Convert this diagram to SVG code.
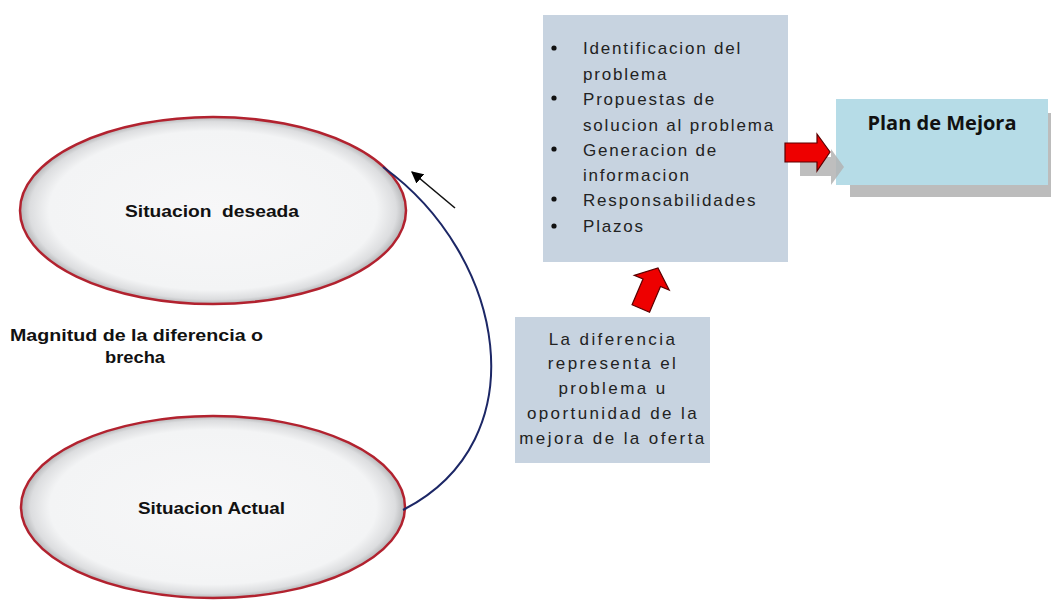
<svg xmlns="http://www.w3.org/2000/svg" width="1051" height="601" viewBox="0 0 1051 601">
<defs>
  <radialGradient id="ellFill" cx="50%" cy="50%" r="50%">
    <stop offset="0" stop-color="#f7f7f8"/>
    <stop offset="0.85" stop-color="#f3f4f5"/>
    <stop offset="0.95" stop-color="#dcdddf"/>
    <stop offset="1" stop-color="#b5b6b8"/>
  </radialGradient>
  <marker id="blackHead" viewBox="0 0 10 10" refX="9" refY="5" markerWidth="12" markerHeight="12" orient="auto" markerUnits="userSpaceOnUse">
    <path d="M0,0 L10,5 L0,10 z" fill="#000"/>
  </marker>
  <style>
    .ell { fill: url(#ellFill); stroke: #b2222f; stroke-width: 2.5; }
    .ellText { font-family: "Liberation Sans", Arial, sans-serif; font-size: 16px; font-weight: bold; fill: #111; }
    .box { fill: #c7d3e0; }
    .boxText { font-family: "Liberation Sans", Arial, sans-serif; font-size: 17px; fill: #222; letter-spacing: 1.8px; }
    .boxText2 { font-family: "Liberation Sans", Arial, sans-serif; font-size: 17px; fill: #222; letter-spacing: 2.4px; }
    .bullet { fill: #111; }
    .redArrow { fill: #ee0000; stroke: #5a0000; stroke-width: 1.2; }
    .conn { fill: none; }
  </style>
</defs>
<rect width="1051" height="601" fill="#ffffff"/>

<g id="node-deseada">
  <ellipse class="ell" cx="213" cy="210.5" rx="193" ry="93.5"/>
  <text class="ellText" x="125" y="217" textLength="174" lengthAdjust="spacingAndGlyphs" xml:space="preserve">Situacion  deseada</text>
</g>

<g id="node-actual">
  <ellipse class="ell" cx="213" cy="507" rx="192" ry="91"/>
  <text class="ellText" x="138" y="514" textLength="147" lengthAdjust="spacingAndGlyphs">Situacion Actual</text>
</g>

<g id="label-magnitud">
  <text class="ellText" x="10" y="341" textLength="253" lengthAdjust="spacingAndGlyphs">Magnitud de la diferencia o</text>
  <text class="ellText" x="105" y="363" textLength="60" lengthAdjust="spacingAndGlyphs">brecha</text>
</g>

<g id="node-acciones">
  <rect class="box" x="543" y="15" width="245" height="247"/>
  <circle class="bullet" cx="554" cy="48" r="2.6"/>
  <circle class="bullet" cx="554" cy="98" r="2.6"/>
  <circle class="bullet" cx="554" cy="149" r="2.6"/>
  <circle class="bullet" cx="554" cy="199" r="2.6"/>
  <circle class="bullet" cx="554" cy="226" r="2.6"/>
  <text class="boxText" x="583" y="54">Identificacion del</text>
  <text class="boxText" x="583" y="80">problema</text>
  <text class="boxText" x="583" y="105">Propuestas de</text>
  <text class="boxText" x="583" y="131">solucion al problema</text>
  <text class="boxText" x="583" y="156">Generacion de</text>
  <text class="boxText" x="583" y="181">informacion</text>
  <text class="boxText" x="583" y="206">Responsabilidades</text>
  <text class="boxText" x="583" y="232">Plazos</text>
</g>

<g id="node-diferencia">
  <rect class="box" x="515" y="317" width="195" height="146"/>
  <text class="boxText2" x="613" y="345" text-anchor="middle">La diferencia</text>
  <text class="boxText2" x="613" y="369" text-anchor="middle">representa el</text>
  <text class="boxText2" x="613" y="394" text-anchor="middle">problema u</text>
  <text class="boxText2" x="613" y="419" text-anchor="middle">oportunidad de la</text>
  <text class="boxText2" x="613" y="444" text-anchor="middle">mejora de la oferta</text>
</g>

<g id="node-plan">
  <rect x="850" y="113" width="201" height="84" fill="#bcbcbc"/>
  <rect x="836" y="99" width="212" height="86" fill="#b6dce7"/>
  <text x="942" y="130" text-anchor="middle" font-family="'Open Sans', 'Noto Sans', sans-serif" font-size="20" font-weight="bold" fill="#111">Plan de Mejora</text>
</g>

<g id="connectors">
  <path class="conn" d="M383,167 C505,255 540,440 403,510" stroke="#1c2766" stroke-width="2"/>
  <line x1="455" y1="208" x2="412" y2="172" stroke="#111" stroke-width="1.6" marker-end="url(#blackHead)"/>
  <g transform="translate(658,268) rotate(23)">
    <path class="redArrow" d="M0,0 L19,16 L9.5,16 L9.5,44 L-9.5,44 L-9.5,16 L-19,16 z"/>
  </g>
  <path d="M800,157 L831,157 L831,149 L844,167 L831,185 L831,176 L800,176 z" fill="#b3b3b3" opacity="0.85"/>
  <path class="redArrow" d="M785,143 L817,143 L817,134 L830,152 L817,171 L817,162 L785,162 z"/>
</g>
</svg>
